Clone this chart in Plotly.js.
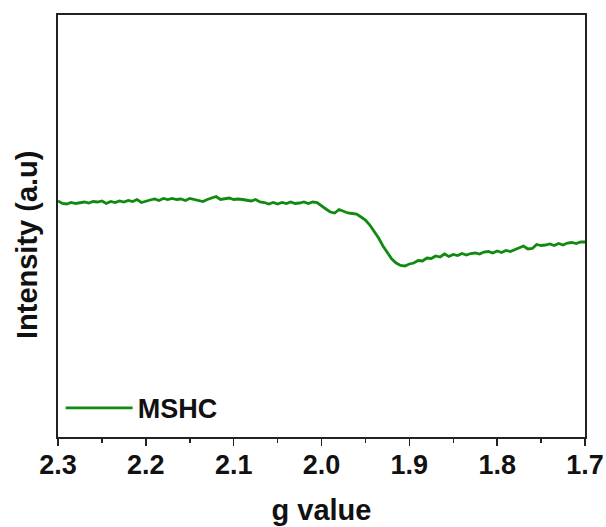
<!DOCTYPE html>
<html>
<head>
<meta charset="utf-8">
<script src="https://cdn.plot.ly/plotly-3.0.1.min.js"></script>
<style>html,body{margin:0;padding:0;background:#fff;}</style>
</head>
<body>
<div id="chart" style="width:606px;height:527px;"></div>
<script>
var gValue = [
  2.300, 2.295, 2.290, 2.285, 2.280, 2.275, 2.270, 2.265, 2.260, 2.255,
  2.250, 2.245, 2.240, 2.235, 2.230, 2.225, 2.220, 2.215, 2.210, 2.205,
  2.200, 2.195, 2.190, 2.185, 2.180, 2.175, 2.170, 2.165, 2.160, 2.155,
  2.150, 2.145, 2.140, 2.135, 2.130, 2.125, 2.120, 2.115, 2.110, 2.105,
  2.100, 2.095, 2.090, 2.085, 2.080, 2.075, 2.070, 2.065, 2.060, 2.055,
  2.050, 2.045, 2.040, 2.035, 2.030, 2.025, 2.020, 2.015, 2.010, 2.005,
  2.000, 1.995, 1.990, 1.985, 1.980, 1.975, 1.970, 1.965, 1.960, 1.955,
  1.950, 1.945, 1.940, 1.935, 1.930, 1.925, 1.920, 1.915, 1.910, 1.905,
  1.900, 1.895, 1.890, 1.885, 1.880, 1.875, 1.870, 1.865, 1.860, 1.855,
  1.850, 1.845, 1.840, 1.835, 1.830, 1.825, 1.820, 1.815, 1.810, 1.805,
  1.800, 1.795, 1.790, 1.785, 1.780, 1.775, 1.770, 1.765, 1.760, 1.755,
  1.750, 1.745, 1.740, 1.735, 1.730, 1.725, 1.720, 1.715, 1.710, 1.705,
  1.700
];
var intensityMSHC = [
  236, 233.5, 233, 234.5, 233.5, 234.5, 235, 234, 235.5, 235,
  236, 233.5, 235.5, 234.5, 236, 235, 236.5, 235.5, 237.5, 234.5,
  236, 237, 238, 236.5, 238.5, 237.5, 238.5, 237.5, 238, 236.5,
  238.5, 237.5, 237, 235.5, 237.5, 239, 240.5, 237.5, 238, 239,
  237.5, 238, 237.5, 236.5, 236, 237.5, 235, 234.5, 233, 234.5,
  233, 234.5, 233.5, 235, 233.5, 234, 235, 233.5, 235, 234.5,
  231, 228, 225, 224, 227.5, 226, 224, 223.5, 223, 220,
  217, 212, 206, 199, 191, 184, 178, 174, 171.5, 171,
  173, 174, 176.5, 176, 179, 178.5, 181, 180, 183, 180.5,
  182.5, 181.5, 183.5, 182, 183.5, 184, 183, 185, 185.5, 184,
  186, 184.5, 186.5, 185.5, 187.5, 189, 191, 188, 188.5, 192.5,
  191.5, 192, 193, 191.5, 193.5, 192, 194, 194.5, 193.5, 195,
  195
];
var xTickVals = [2.3, 2.2, 2.1, 2.0, 1.9, 1.8, 1.7];
var xTickText = ['2.3', '2.2', '2.1', '2.0', '1.9', '1.8', '1.7'];
var seriesName = 'MSHC';
var xTitle = 'g value';
var yTitle = 'Intensity (a.u)';

var fontFam = 'Arial, "Liberation Sans", sans-serif';

var trace = {
  x: gValue,
  y: intensityMSHC,
  type: 'scatter',
  mode: 'lines',
  name: seriesName,
  line: {color: '#108a10', width: 2.8}
};

var layout = {
  width: 606,
  height: 527,
  margin: {l: 58, r: 21, t: 15, b: 90},
  paper_bgcolor: '#ffffff',
  plot_bgcolor: '#ffffff',
  showlegend: true,
  legend: {
    x: 0.005, y: 0.01, xanchor: 'left', yanchor: 'bottom',
    bgcolor: 'rgba(0,0,0,0)',
    itemwidth: 67,
    font: {family: fontFam, size: 27, color: '#111', weight: 'bold'}
  },
  xaxis: {
    range: [2.3, 1.7],
    tickmode: 'array',
    tickvals: xTickVals,
    ticktext: xTickText,
    ticks: 'outside',
    ticklen: 7,
    tickwidth: 1.5,
    tickcolor: '#222',
    ticklabelstandoff: -4,
    minor: {dtick: 0.05, ticks: 'outside', ticklen: 4, tickwidth: 1.5, tickcolor: '#222'},
    showline: true,
    linecolor: '#222',
    linewidth: 1.8,
    mirror: true,
    showgrid: false,
    zeroline: false,
    tickfont: {family: fontFam, size: 27, color: '#111', weight: 'bold'},
    title: {text: xTitle, standoff: 20, font: {family: fontFam, size: 29, color: '#111', weight: 'bold'}}
  },
  yaxis: {
    range: [0, 422],
    showticklabels: false,
    ticks: '',
    showline: true,
    linecolor: '#222',
    linewidth: 1.8,
    mirror: true,
    showgrid: false,
    zeroline: false
  },
  annotations: [{
    text: yTitle,
    xref: 'paper', yref: 'paper',
    x: -0.059, y: 0.457,
    xanchor: 'center', yanchor: 'middle',
    textangle: -90,
    showarrow: false,
    font: {family: fontFam, size: 29, color: '#111', weight: 'bold'}
  }]
};

Plotly.newPlot('chart', [trace], layout, {displayModeBar: false, staticPlot: true});
</script>
</body>
</html>
